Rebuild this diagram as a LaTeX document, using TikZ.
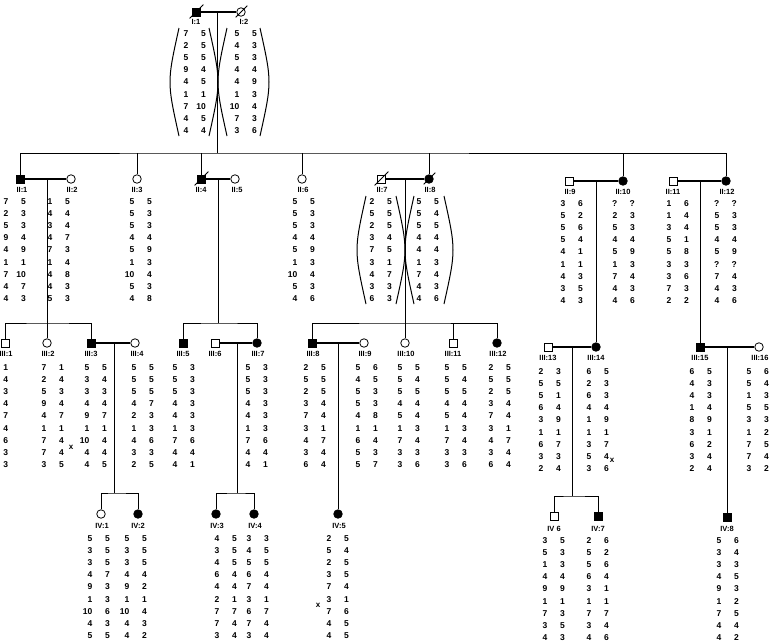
\documentclass[tikz,border=0pt]{standalone}
\usepackage{fontspec}
\setmainfont{Liberation Sans}
\usepackage{array}
\usepackage{tikz}
\usetikzlibrary{positioning}
\newcolumntype{R}{>{\raggedleft\arraybackslash}p{10pt}}
\newcommand{\hap}[1]{\begin{tabular}[t]{@{}R@{\hspace{7.5pt}}R@{}}#1\end{tabular}}

\begin{document}
\begin{tikzpicture}[x=1pt, y=-1pt,
      male/.style={rectangle, draw, line width=0.8pt, minimum size=8pt, inner sep=0pt, fill=white},
      female/.style={circle, draw, line width=0.8pt, minimum size=8.5pt, inner sep=0pt, fill=white},
      aff/.style={fill=black},
      tag/.style={font=\fontsize{7.5}{8}\selectfont\bfseries, anchor=base, inner sep=0pt},
      hapl/.style={font=\fontsize{8.5}{12.2}\selectfont\bfseries, anchor=base, inner sep=0pt},
      xmark/.style={font=\fontsize{8}{9}\selectfont\bfseries, anchor=base, inner sep=0pt},
      link/.style={line width=0.8pt},
      mate/.style={line width=1.2pt},
      brace/.style={line width=1pt},
      slash/.style={line width=0.8pt}
    ]
      \useasboundingbox[fill=white] (0,0) rectangle (771,643);

      % generation I
      \node[male, aff] (i1) at (196,12) {};
      \node[female]    (i2) at (241,12) {};
      \node[tag] (li1) at (196,24) {I:1};
      \node[tag] (li2) at (244,24) {I:2};
      \node[hapl] (h1) at (192,36) {\hap{7&5\\2&5\\5&5\\9&4\\4&5\\1&1\\7&10\\4&5\\4&4}};
      \node[hapl] (h2) at (243,36) {\hap{5&5\\4&3\\5&3\\4&4\\4&9\\1&3\\10&4\\7&3\\3&6}};
      \draw[brace] (179,28) .. controls (167,82) .. (179,136);
      \draw[brace] (209,28) .. controls (221,82) .. (209,136);
      \draw[brace] (227,28) .. controls (215,82) .. (227,136);
      \draw[brace] (260,28) .. controls (272,82) .. (260,136);

      % generation II
      \node[male, aff]   (ii1)  at (20,179)  {};
      \node[female]      (ii2)  at (71,179)  {};
      \node[female]      (ii3)  at (137,179) {};
      \node[male, aff]   (ii4)  at (201,179) {};
      \node[female]      (ii5)  at (235,179) {};
      \node[female]      (ii6)  at (302,179) {};
      \node[male]        (ii7)  at (381,179) {};
      \node[female, aff] (ii8)  at (429,179) {};
      \node[male]        (ii9)  at (569,181) {};
      \node[female, aff] (ii10) at (623,181) {};
      \node[male]        (ii11) at (673,181) {};
      \node[female, aff] (ii12) at (726,181) {};
      \node[tag] at (22,192)  {II:1};
      \node[tag] at (72,192)  {II:2};
      \node[tag] at (137,192) {II:3};
      \node[tag] at (201,192) {II:4};
      \node[tag] at (237,192) {II:5};
      \node[tag] at (303,192) {II:6};
      \node[tag] at (382,192) {II:7};
      \node[tag] at (430,192) {II:8};
      \node[tag] at (570,194) {II:9};
      \node[tag] at (623,194) {II:10};
      \node[tag] at (673,194) {II:11};
      \node[tag] at (727,194) {II:12};
      \node[hapl] (h3)  at (12,204)  {\hap{7&5\\2&3\\5&3\\9&4\\4&9\\1&1\\7&10\\4&7\\4&3}};
      \node[hapl] (h4)  at (56,204)  {\hap{1&5\\4&4\\3&4\\4&7\\7&3\\1&4\\4&8\\4&3\\5&3}};
      \node[hapl] (h5)  at (138,204) {\hap{5&5\\5&3\\5&3\\4&4\\5&9\\1&3\\10&4\\5&3\\4&8}};
      \node[hapl] (h6)  at (301,204) {\hap{5&5\\5&3\\5&3\\4&4\\5&9\\1&3\\10&4\\5&3\\4&6}};
      \node[hapl] (h7)  at (378,204) {\hap{2&5\\5&5\\2&5\\3&4\\7&5\\3&1\\4&7\\3&3\\6&3}};
      \node[hapl] (h8)  at (425,204) {\hap{5&5\\5&4\\5&5\\4&4\\4&4\\1&3\\7&4\\4&3\\4&6}};
      \node[hapl] (h9)  at (569,206) {\hap{3&6\\5&2\\5&6\\5&4\\4&1\\1&1\\4&3\\3&5\\4&3}};
      \node[hapl] (h10) at (621,206) {\hap{?&?\\2&3\\5&3\\4&4\\5&9\\1&3\\7&4\\4&3\\4&6}};
      \node[hapl] (h11) at (675,206) {\hap{1&6\\1&4\\3&4\\5&1\\5&8\\3&3\\3&6\\7&3\\2&2}};
      \node[hapl] (h12) at (723,206) {\hap{?&?\\5&3\\5&3\\4&4\\5&9\\?&?\\7&4\\4&3\\4&6}};
      \draw[brace] (366,196) .. controls (354,250) .. (366,304);
      \draw[brace] (396,196) .. controls (408,250) .. (396,304);
      \draw[brace] (414,196) .. controls (402,250) .. (414,304);
      \draw[brace] (444,196) .. controls (456,250) .. (444,304);

      % generation III
      \node[male]        (iii1)  at (5,343)   {};
      \node[female]      (iii2)  at (47,343)  {};
      \node[male, aff]   (iii3)  at (91,343)  {};
      \node[female]      (iii4)  at (135,343) {};
      \node[male, aff]   (iii5)  at (183,343) {};
      \node[male]        (iii6)  at (215,343) {};
      \node[female, aff] (iii7)  at (257,343) {};
      \node[male, aff]   (iii8)  at (312,343) {};
      \node[female]      (iii9)  at (364,343) {};
      \node[female]      (iii10) at (405,343) {};
      \node[male]        (iii11) at (453,343) {};
      \node[female, aff] (iii12) at (497,343) {};
      \node[male]        (iii13) at (548,347) {};
      \node[female, aff] (iii14) at (596,347) {};
      \node[male, aff]   (iii15) at (700,347) {};
      \node[female]      (iii16) at (759,347) {};
      \node[tag] at (6,356)   {III:1};
      \node[tag] at (48,356)  {III:2};
      \node[tag] at (91,356)  {III:3};
      \node[tag] at (137,356) {III:4};
      \node[tag] at (183,356) {III:5};
      \node[tag] at (215,356) {III:6};
      \node[tag] at (258,356) {III:7};
      \node[tag] at (313,356) {III:8};
      \node[tag] at (365,356) {III:9};
      \node[tag] at (406,356) {III:10};
      \node[tag] at (453,356) {III:11};
      \node[tag] at (498,356) {III:12};
      \node[tag] at (548,360) {III:13};
      \node[tag] at (596,360) {III:14};
      \node[tag] at (700,360) {III:15};
      \node[tag] at (760,360) {III:16};
      \node[hapl] (h13) at (3,370)   {\begin{tabular}[t]{@{}R@{}}1\\4\\3\\4\\7\\4\\6\\3\\3\end{tabular}};
      \node[hapl] (h14) at (50,370)  {\hap{7&1\\2&4\\5&3\\9&4\\4&7\\1&1\\7&4\\7&4\\3&5}};
      \node[hapl] (h15) at (93,370)  {\hap{5&5\\3&4\\3&3\\4&4\\9&7\\1&1\\10&4\\4&4\\4&5}};
      \node[hapl] (h16) at (140,370) {\hap{5&5\\5&5\\5&5\\4&7\\2&3\\1&3\\4&6\\3&3\\2&5}};
      \node[hapl] (h17) at (181,370) {\hap{5&3\\5&3\\5&3\\4&3\\4&3\\1&3\\7&6\\4&4\\4&1}};
      \node[hapl] (h18) at (254,370) {\hap{5&3\\5&3\\5&3\\4&3\\4&3\\1&3\\7&6\\4&4\\4&1}};
      \node[hapl] (h19) at (312,370) {\hap{2&5\\5&5\\2&5\\3&4\\7&4\\3&1\\4&7\\3&4\\6&4}};
      \node[hapl] (h20) at (364,370) {\hap{5&6\\4&5\\5&3\\5&3\\4&8\\1&1\\6&4\\5&3\\5&7}};
      \node[hapl] (h21) at (406,370) {\hap{5&5\\5&4\\5&5\\4&4\\5&4\\1&3\\7&4\\3&3\\3&6}};
      \node[hapl] (h22) at (453,370) {\hap{5&5\\5&4\\5&5\\4&4\\5&4\\1&3\\7&4\\3&3\\3&6}};
      \node[hapl] (h23) at (497,370) {\hap{2&5\\5&5\\2&5\\3&4\\7&4\\3&1\\4&7\\3&4\\6&4}};
      \node[hapl] (h24) at (547,374) {\hap{2&3\\5&5\\5&1\\6&4\\3&9\\1&1\\6&7\\3&3\\2&4}};
      \node[hapl] (h25) at (595,374) {\hap{6&5\\2&3\\6&3\\4&4\\1&9\\1&1\\3&7\\5&4\\3&6}};
      \node[hapl] (h26) at (698,374) {\hap{6&5\\4&3\\4&3\\1&4\\8&9\\3&1\\6&2\\3&4\\2&4}};
      \node[hapl] (h27) at (755,374) {\hap{5&6\\5&4\\1&3\\5&5\\3&3\\1&2\\7&5\\7&4\\3&2}};
      \node[xmark] (x1) at (71,449)  {x};
      \node[xmark] (x2) at (612,462) {x};

      % generation IV
      \node[female]      (iv1) at (101,514) {};
      \node[female, aff] (iv2) at (138,514) {};
      \node[female, aff] (iv3) at (216,514) {};
      \node[female, aff] (iv4) at (254,514) {};
      \node[female, aff] (iv5) at (338,514) {};
      \node[male]        (iv6) at (554,516) {};
      \node[male, aff]   (iv7) at (598,516) {};
      \node[male, aff]   (iv8) at (727,517) {};
      \node[tag] at (102,528) {IV:1};
      \node[tag] at (138,528) {IV:2};
      \node[tag] at (217,528) {IV:3};
      \node[tag] at (255,528) {IV:4};
      \node[tag] at (339,528) {IV:5};
      \node[tag] at (554,531) {IV 6};
      \node[tag] at (598,531) {IV:7};
      \node[tag] at (727,531) {IV:8};
      \node[hapl] (h28) at (96,541)  {\hap{5&5\\3&5\\3&5\\4&7\\9&3\\1&3\\10&6\\4&3\\5&5}};
      \node[hapl] (h29) at (133,541) {\hap{5&5\\3&5\\3&5\\4&4\\9&2\\1&1\\10&4\\4&3\\4&2}};
      \node[hapl] (h30) at (223,541) {\hap{4&5\\3&5\\4&5\\6&4\\4&4\\2&1\\7&7\\7&4\\3&4}};
      \node[hapl] (h31) at (255,541) {\hap{3&3\\4&5\\5&5\\6&4\\7&4\\3&1\\6&7\\7&4\\3&4}};
      \node[hapl] (h32) at (335,541) {\hap{2&5\\5&4\\2&5\\3&5\\7&4\\3&1\\7&6\\4&5\\4&5}};
      \node[hapl] (h33) at (551,543) {\hap{3&5\\5&3\\1&3\\4&4\\9&9\\1&1\\7&3\\3&5\\4&3}};
      \node[hapl] (h34) at (595,543) {\hap{2&6\\5&2\\5&6\\6&4\\3&1\\1&1\\7&7\\3&4\\4&6}};
      \node[hapl] (h35) at (725,543) {\hap{5&6\\3&4\\3&3\\4&5\\9&3\\1&2\\7&5\\4&4\\4&2}};
      \node[xmark] (x3) at (318,607) {x};

      % marriage and descent lines
      \coordinate (d1) at (217,12);   \coordinate (s1) at (217,153);
      \coordinate (d2) at (47,179);   \coordinate (s2) at (47,323);
      \coordinate (d3) at (218,179);  \coordinate (s3) at (218,323);
      \coordinate (d4) at (405,179);  \coordinate (s4) at (405,323);
      \coordinate (d5) at (596,181);
      \coordinate (d6) at (700,181);
      \coordinate (d7) at (114,343);  \coordinate (s7) at (114,493);
      \coordinate (d8) at (237,343);  \coordinate (s8) at (237,493);
      \coordinate (d9) at (338,343);
      \coordinate (d10) at (572,347); \coordinate (s10) at (572,496);
      \coordinate (d11) at (727,347);

      \draw[mate] (i1) -- (i2);  \draw[link] (d1) -- (s1);
      \draw[link] (ii1) |- (s1) -| (ii12);
      \foreach \n in {ii3,ii4,ii6,ii8,ii10}
        \draw[link] (s1 -| \n) -- (\n);

      \draw[mate] (ii1) -- (ii2);   \draw[link] (d2) -- (s2);
      \draw[link] (iii1) |- (s2) -| (iii3);
      \draw[link] (s2) -- (iii2);
      \draw[mate] (ii4) -- (ii5);   \draw[link] (d3) -- (s3);
      \draw[link] (iii5) |- (s3) -| (iii7);
      \draw[mate] (ii7) -- (ii8);   \draw[link] (d4) -- (iii10);
      \draw[link] (iii8) |- (s4) -| (iii12);
      \draw[link] (s4 -| iii11) -- (iii11);
      \draw[mate] (ii9) -- (ii10);  \draw[link] (d5) -- (iii14);
      \draw[mate] (ii11) -- (ii12); \draw[link] (d6) -- (iii15);

      \draw[mate] (iii3) -- (iii4);   \draw[link] (d7) -- (s7);
      \draw[link] (iv1) |- (s7) -| (iv2);
      \draw[mate] (iii6) -- (iii7);   \draw[link] (d8) -- (s8);
      \draw[link] (iv3) |- (s8) -| (iv4);
      \draw[mate] (iii8) -- (iii9);   \draw[link] (d9) -- (iv5);
      \draw[mate] (iii13) -- (iii14); \draw[link] (d10) -- (s10);
      \draw[link] (iv6) |- (s10) -| (iv7);
      \draw[mate] (iii15) -- (iii16); \draw[link] (d11) -- (iv8);

      % deceased
      \foreach \n in {i1,i2,ii4,ii7,ii8}
        \draw[slash] ([shift={(-2,2)}]\n.south west) -- ([shift={(3,-3)}]\n.north east);
    \end{tikzpicture}
\end{document}
